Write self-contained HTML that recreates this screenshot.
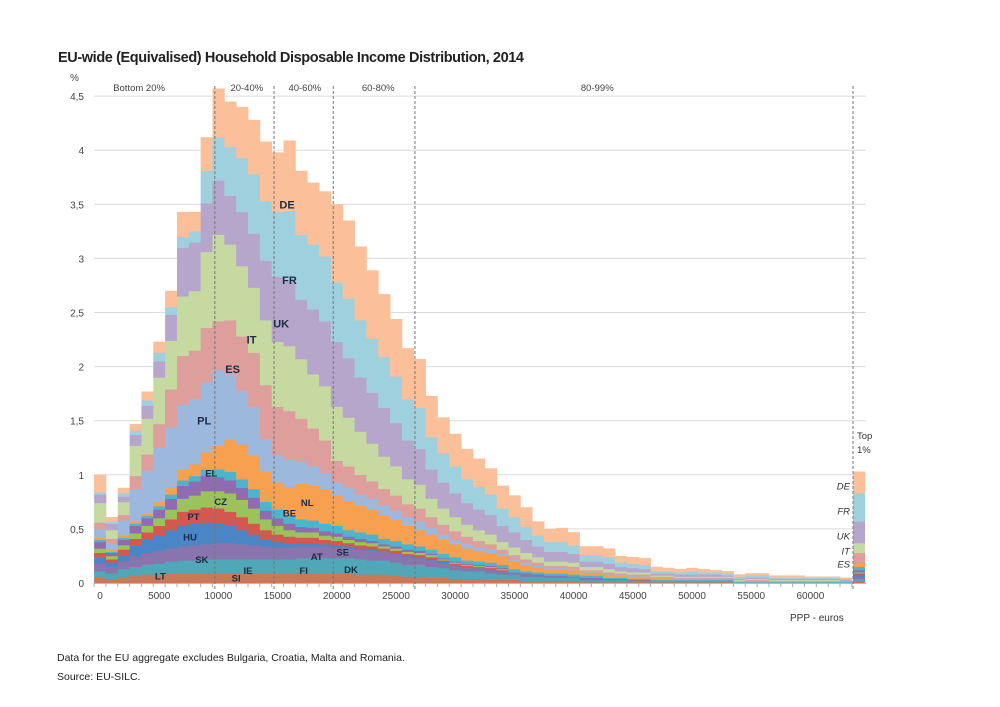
<!DOCTYPE html>
<html><head><meta charset="utf-8"><style>
html,body{margin:0;padding:0;background:#fff;}
svg{display:block;font-family:"Liberation Sans",sans-serif;}
</style></head><body>
<svg id="chart" width="1000" height="707" viewBox="0 0 1000 707">
<text x="58" y="62" font-size="14.5" font-weight="bold" fill="#222" textLength="466">EU-wide (Equivalised) Household Disposable Income Distribution, 2014</text>
<text x="70" y="81" font-size="10" fill="#444">%</text>
<g id="grid"></g>
<g id="bars"></g>
<g id="axes"></g>
<g id="labels"></g>
<text x="790" y="621" font-size="10" fill="#333">PPP - euros</text>
<text x="57" y="661" font-size="10.5" fill="#222">Data for the EU aggregate excludes Bulgaria, Croatia, Malta and Romania.</text>
<text x="57" y="680" font-size="10.5" fill="#222">Source: EU-SILC.</text>
</svg>
<script>
const yTicks=[0,0.5,1,1.5,2,2.5,3,3.5,4,4.5];
const yTickLabels=["0","0,5","1","1,5","2","2,5","3","3,5","4","4,5"];
const xTicks=[0,5000,10000,15000,20000,25000,30000,35000,40000,45000,50000,55000,60000];
const quintileBounds=[9700,14700,19700,26600,63600];
const quintileLabels=["Bottom 20%","20-40%","40-60%","60-80%","80-99%"];
const quintileLabelPos=[3300,12400,17300,23500,42000];
const seriesNames=["lt-si","ie-fi","sk-at","HU","PT","CZ","EL","BE","NL","PL","ES","IT","UK","FR","DE"];
const baseA=[.05,.04,.06,.07,.08,.08,.09,.09,.09,.09,.09,.09,.09,.09,.09,.09,.09,.09,.09,.09,.09,.09,.08,.08,.08,.07,.06,.06,.05,.05,.04,.04,.04,.03,.03,.03,.02,.02,.02,.02,.02,.01,.01,.01,.01,.01,.01,.01,.01,.01,.01,.01,.01,.01];
const baseB=[.06,.05,.07,.08,.09,.1,.11,.12,.12,.13,.13,.13,.13,.13,.13,.13,.13,.14,.14,.14,.14,.14,.14,.13,.13,.12,.11,.11,.1,.09,.08,.07,.07,.06,.05,.05,.04,.04,.03,.03,.03,.02,.02,.02,.02,.01,.01,.01,.01,.01,.01,.01,.01,.01];
const baseC=[.07,.06,.07,.1,.11,.12,.12,.13,.14,.14,.15,.15,.14,.13,.12,.11,.11,.11,.11,.11,.1,.09,.09,.09,.08,.08,.07,.06,.06,.05,.05,.04,.03,.04,.03,.02,.03,.02,.02,.02,.01,.02,.02,.01,.01,.01,.01];
const HU=[.06,.04,.06,.1,.12,.14,.17,.2,.2,.2,.18,.16,.13,.1,.07,.05,.04,.03,.03,.02,.02,.02,.01,.01,.01,.01,.01,.01,.01,.01];
const PT=[.04,.03,.05,.06,.07,.09,.1,.12,.13,.14,.14,.13,.12,.1,.08,.07,.06,.05,.05,.04,.04,.03,.03,.03,.02,.02,.02,.02,.02,.01,.01,.01,.01,.01,.01];
const CZ=[.04,.03,.04,.05,.06,.07,.09,.12,.13,.15,.16,.17,.16,.14,.1,.08,.06,.05,.05,.04,.04,.03,.03,.03,.02,.02,.02,.02,.02,.01,.01,.01,.01,.01,.01];
const EL=[.06,.03,.05,.07,.07,.08,.1,.12,.13,.14,.13,.12,.11,.1,.08,.07,.06,.05,.04,.04,.03,.03,.03,.02,.02,.02,.02,.02,.01,.01,.01,.01,.01,.01,.01];
const BE=[.02,.01,.02,.02,.02,.03,.04,.05,.05,.06,.07,.08,.08,.08,.08,.08,.07,.07,.07,.07,.07,.06,.06,.06,.05,.05,.05,.04,.04,.04,.04,.03,.03,.03,.03,.03,.02,.02,.02,.02,.02,.02,.02,.01,.01,.01,.01,.01,.01,.01,.01,.01,.01,.01,.01,.01,.01,.01,.01,.01,.01,.01,.01,.01];
const NL=[.02,.02,.02,.02,.02,.04,.07,.1,.11,.16,.22,.3,.32,.31,.28,.25,.27,.33,.32,.32,.28,.27,.25,.23,.22,.2,.17,.15,.14,.13,.12,.11,.1,.09,.08,.07,.06,.05,.04,.04,.04,.03,.03,.03,.02,.02,.02,.02,.02,.01,.01,.01,.01,.01,.01,.01,.01,.01,.01,.01,.01,.01,.01,.01];
const PL=[.08,.06,.14,.3,.4,.5,.55,.6,.6,.65,.7,.6,.5,.45,.3,.25,.25,.2,.18,.15,.12,.12,.1,.1,.09,.08,.08,.08,.06,.05,.04,.04,.03,.03,.02,.02,.02,.01,.01,.01,.01,.01,.01,.01,.01,.01,.01];
const ES=[.06,.04,.05,.12,.15,.22,.35,.45,.45,.5,.45,.5,.5,.5,.5,.45,.45,.4,.35,.3,.2,.2,.18,.16,.15,.14,.12,.12,.1,.09,.08,.07,.06,.05,.04,.04,.03,.03,.02,.02,.02,.01,.01,.01,.01,.01,.01,.01,.01,.01,.01,.01,.01,.01,0,.01,.01];
const IT=[.18,.08,.12,.28,.33,.43,.45,.55,.55,.7,.8,.7,.65,.6,.6,.6,.6,.55,.5,.5,.5,.45,.4,.35,.3,.27,.23,.22,.17,.15,.13,.11,.1,.09,.07,.07,.06,.05,.04,.04,.04,.03,.03,.03,.02,.02,.02,.01,.01,.01,.01,.01,.01,.01,.01,.01,.01,.01,.01,.01,.01,.01,.01,0];
const UK=[.08,.06,.05,.1,.12,.15,.24,.45,.45,.45,.5,.45,.5,.5,.55,.6,.6,.55,.6,.6,.6,.55,.5,.47,.45,.4,.36,.33,.27,.24,.22,.2,.19,.18,.15,.14,.12,.1,.09,.09,.08,.05,.05,.05,.04,.04,.03,.02,.02,.02,.02,.02,.02,.01,.01,.01,.01,.01,.01,.01,.01,.01,.01,.01];
const FR=[.02,.02,.03,.04,.05,.08,.07,.1,.1,.3,.4,.45,.5,.55,.55,.6,.65,.6,.6,.6,.55,.55,.53,.5,.47,.43,.38,.38,.3,.27,.25,.22,.21,.19,.16,.14,.12,.1,.09,.09,.08,.06,.06,.06,.04,.04,.04,.02,.02,.02,.03,.02,.02,.02,.02,.02,.02,.01,.01,.01,.01,.01,.01,.01];
const DE=[.16,.04,.05,.06,.08,.1,.15,.23,.18,.31,.45,.42,.47,.5,.55,.55,.65,.59,.57,.6,.72,.72,.68,.63,.58,.53,.47,.45,.38,.33,.3,.28,.26,.24,.21,.2,.18,.13,.12,.13,.12,.08,.08,.08,.06,.06,.06,.04,.03,.03,.03,.03,.02,.02,.02,.02,.02,.02,.02,.02,.01,.01,.01,.01];
const top1=[.02,.02,.02,.02,.01,.01,.02,.03,.04,0,.09,.09,.2,.26,.2];
const binCenters=[];for(let i=0;i<64;i++)binCenters.push(i*1000);
const colors=["#c9785a","#4fa7b8","#8a74ae","#4a86c5","#d4584f","#9cc25c","#8f6cb0","#4cb5cc","#f7a04f","#9db8dd","#dd9e9c","#c5d9a0","#b7a6cc","#9fd0de","#fbbf99"];
const series=[baseA,baseB,baseC,HU,PT,CZ,EL,BE,NL,PL,ES,IT,UK,FR,DE];
const labelNames=["DE","FR","UK","IT","ES","PL","EL","CZ","PT","HU","SK","LT","SI","IE","NL","BE","AT","FI","SE","DK"];
const labelX=[15800,16000,15300,12800,11200,8800,9400,10200,7900,7600,8600,5100,11500,12500,17500,16000,18300,17200,20500,21200];
const labelY=[3.5,2.8,2.4,2.25,1.98,1.5,1.02,0.76,0.62,0.43,0.22,0.07,0.05,0.12,0.75,0.65,0.25,0.12,0.29,0.13];
const sideNames=["DE","FR","UK","IT","ES"];
const sideY=[0.9,0.67,0.44,0.30,0.18];

const NS="http://www.w3.org/2000/svg";
const X0=100,PX=59.2/5000,Y0=583,PY=108.2;
function xs(v){return X0+v*PX;}
function ys(v){return Y0-v*PY;}
function mk(tag,attrs,parent){const e=document.createElementNS(NS,tag);for(const k in attrs)e.setAttribute(k,attrs[k]);parent.appendChild(e);return e;}
const grid=document.getElementById('grid'),bars=document.getElementById('bars'),axes=document.getElementById('axes'),labels=document.getElementById('labels');
yTicks.forEach((t,i)=>{
  if(i>0){const l=mk('line',{x1:94,x2:866,y1:ys(t),y2:ys(t),stroke:'#dcdcdc','stroke-width':1},grid);
  
  }
  const tx=mk('text',{x:84,y:ys(t)+4,'font-size':10,'text-anchor':'end',fill:'#444'},axes);tx.textContent=yTickLabels[i];
  
  
});
binCenters.forEach((c,i)=>{
  let acc=0;
  series.forEach((s,j)=>{
    const v=s[i]||0;if(v<=0)return;
    const r=mk('rect',{x:xs(c-500),y:ys(acc+v),width:xs(c+500)-xs(c-500)+0.4,height:v*PY+0.3,fill:colors[j]},bars);
    
    
    acc+=v;
  });
});
let acc1=0;
top1.forEach((v,j)=>{if(v<=0)return;
  const r=mk('rect',{x:853,y:ys(acc1+v),width:12,height:v*PY+0.3,fill:colors[j]},bars);
  
  
  acc1+=v;});
mk('line',{x1:94,x2:866,y1:Y0+0.5,y2:Y0+0.5,stroke:'#bbb'},axes);
for(let v=-500;v<=63500;v+=1000){mk('line',{x1:xs(v),x2:xs(v),y1:Y0,y2:Y0+4,stroke:'#aaa'},axes);}
xTicks.forEach(t=>{const tx=mk('text',{x:xs(t),y:599,'font-size':10,'text-anchor':'middle',fill:'#444'},axes);tx.textContent=String(t);
  
  });
quintileBounds.forEach(b=>{const l=mk('line',{x1:xs(b),x2:xs(b),y1:86,y2:590,stroke:'#777','stroke-width':1,'stroke-dasharray':'3,2'},axes);
  
  });
quintileLabels.forEach((q,i)=>{const tx=mk('text',{x:xs(quintileLabelPos[i]),y:91,'font-size':9.5,'text-anchor':'middle',fill:'#444'},axes);tx.textContent=q;
  
  });
labelNames.forEach((n,i)=>{const big=i<6;const tx=mk('text',{x:xs(labelX[i]),y:ys(labelY[i])+4,'font-size':big?11:9.5,'font-weight':'bold','text-anchor':'middle',fill:'#1d2a44'},labels);tx.textContent=n;
  
  });
sideNames.forEach((n,i)=>{const tx=mk('text',{x:850,y:ys(sideY[i])+4,'font-size':9.5,'font-style':'italic','text-anchor':'end',fill:'#333'},labels);tx.textContent=n;
  
  });
const t1=mk('text',{x:857,y:439,'font-size':9.5,fill:'#333'},labels);t1.textContent='Top';


const t2=mk('text',{x:857,y:453,'font-size':9.5,fill:'#333'},labels);t2.textContent='1%';


</script>
</body></html>
